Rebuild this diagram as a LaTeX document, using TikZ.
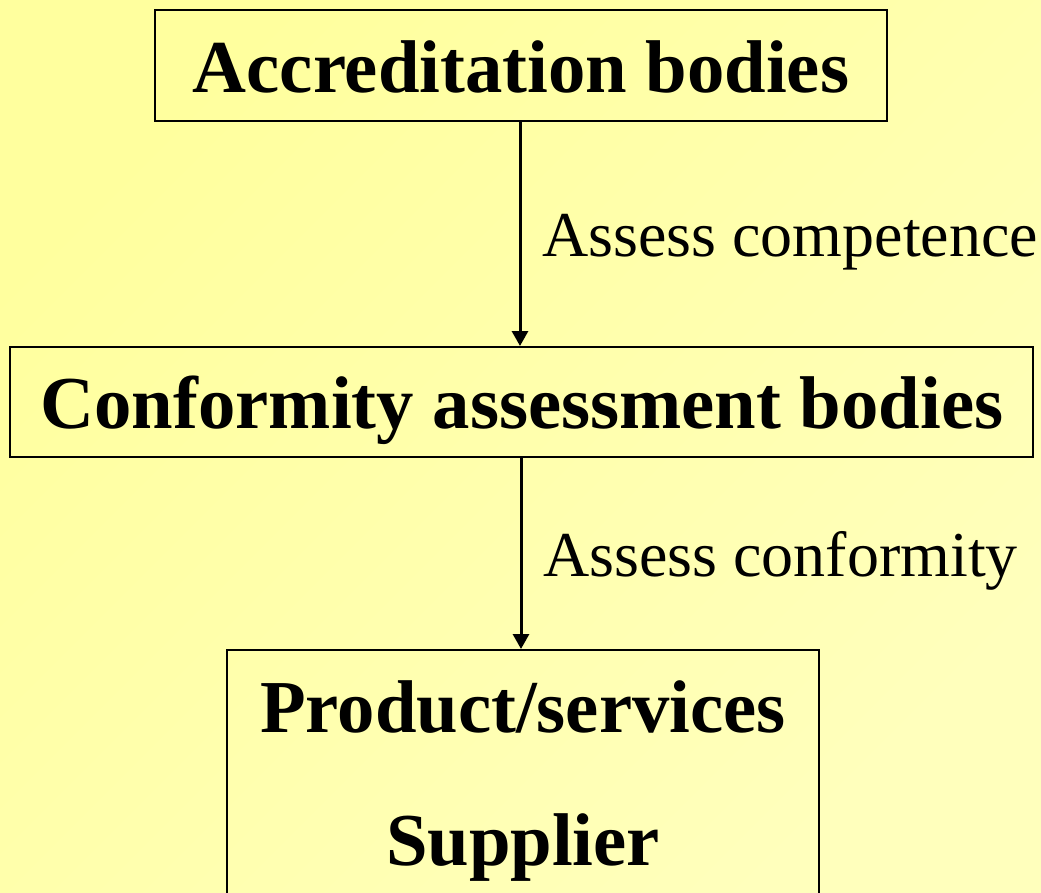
\documentclass[tikz,border=0pt]{standalone}
\usepackage{fontspec}
\setmainfont{Liberation Serif}
\usetikzlibrary{arrows.meta}
\definecolor{bgA}{RGB}{255,255,158}
\definecolor{bgB}{RGB}{255,255,188}
\begin{document}
\begin{tikzpicture}[x=1pt,y=-1pt,
  ttl/.style={font=\fontsize{74.7}{86}\selectfont\bfseries,anchor=base,inner sep=0pt},
  lbl/.style={font=\fontsize{64}{72}\selectfont,anchor=base west,inner sep=0pt},
  arr/.style={line width=3pt,-{Triangle[length=15pt,width=16pt]}}]
\useasboundingbox (0,0) rectangle (1041,892);
\clip (0,0) rectangle (1041,892);
\shade[top color=bgA, bottom color=bgB, shading angle=45] (0,0) rectangle (1041,892);
% boxes
\node[draw=black,line width=2pt,inner sep=0pt,minimum width=732pt,minimum height=111pt] (b1) at (521,65.5) {};
\node[draw=black,line width=2pt,inner sep=0pt,minimum width=1023pt,minimum height=110pt] (b2) at (521.5,402) {};
\node[draw=black,line width=2pt,inner sep=0pt,minimum width=592pt,minimum height=310pt] (b3) at (523,805) {};
% texts
\node[ttl] (t1) at (521,92) {Accreditation bodies};
\node[ttl] (t2) at (522,428) {Conformity assessment bodies};
\node[ttl] (t3) at (523,732) {Product/services};
\node[ttl] (t4) at (523,865) {Supplier};
% arrows
\draw[arr] (b1.south -| 520,0) -- (b2.north -| 520,0);
\draw[arr] (b2.south -| 521,0) -- (b3.north -| 521,0);
\node[lbl] (l1) at (542,256) {Assess competence};
\node[lbl] (l2) at (543,576) {Assess conformity};
\end{tikzpicture}
\end{document}
